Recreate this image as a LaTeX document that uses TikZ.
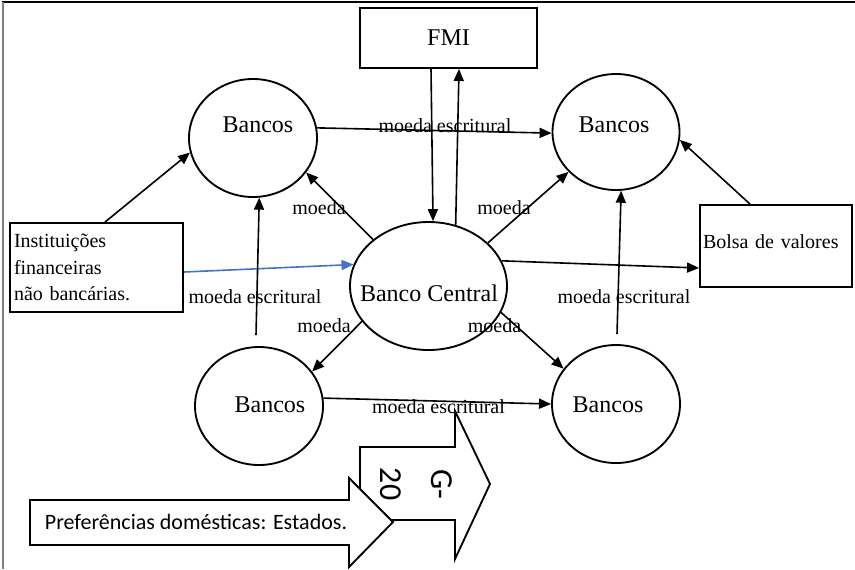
\documentclass[tikz,border=0pt]{standalone}
\usepackage{fontspec}
\setmainfont{Liberation Serif}
\newfontfamily\calib{Carlito}
\usetikzlibrary{shapes.geometric,arrows.meta,calc}
\begin{document}
\begin{tikzpicture}[x=0.75pt,y=-0.75pt,
  ell/.style={draw, ellipse, line width=1.4pt, inner sep=0pt, minimum width=96pt, minimum height=88.5pt},
  box/.style={draw, rectangle, line width=1.4pt},
  big/.style={font=\fontsize{18}{21}\selectfont, inner sep=0pt},
  lbl/.style={font=\fontsize{15}{18}\selectfont, inner sep=0pt},
  con/.style={line width=1.2pt, -{Triangle[length=9pt,width=7.5pt]}},
  blockarrow/.style={draw, fill=white, line width=1.4pt, line join=miter},
]
\useasboundingbox (0,0) rectangle (855,569);
% frame
\draw[line width=1.2pt] (2,2) -- (855,2);
\draw[gray, line width=1.2pt] (3,2) -- (3,569);

% ellipses
\node[ell] (tl) at (253,138) {};
\node[ell, minimum width=95.25pt, minimum height=87pt] (tr) at (616,132) {};
\node[ell, minimum width=117.75pt, minimum height=96pt] (bc) at (428.5,286) {};
\node[ell] (bl) at (259,406) {};
\node[ell] (br) at (616,404) {};
\node[big] (tlt) at (258,125) {Bancos};
\node[big] (trt) at (614,125) {Bancos};
\node[big] (blt) at (270,405) {Bancos};
\node[big] (brt) at (608,405) {Bancos};
\node[big] (bct) at (429,293) {Banco Central};

% boxes
\node[box, minimum width=132.75pt, minimum height=45pt, font=\fontsize{18}{21}\selectfont] (fmi) at (448.5,38) {FMI};
\node[box, text width=123.75pt, inner xsep=3pt, inner ysep=0pt, minimum height=66.75pt, align=left, font=\fontsize{15}{20}\selectfont] (inst) at (96.5,267.5) {Instituições\\financeiras\\não bancárias.};
\node[box, text width=109.5pt, inner xsep=2.25pt, inner ysep=0pt, minimum height=61.5pt, align=left, font=\fontsize{15}{18}\selectfont] (bolsa) at (776,246) {Bolsa de valores\rule[-6pt]{0pt}{6pt}};

% connectors
\draw[con] (tl.9) -- (tr.181);
\draw[con] ($(fmi.south)+(-17.5,0)$) -- (bc.86);
\draw[con] (bc.66) -- ($(fmi.south)+(10.5,0)$);
\draw[con] ($(inst.north)+(8.5,0)$) -- (tl.193);
\draw[con, color={rgb,255:red,68;green,114;blue,196}] ($(inst.east)+(0,4.5)$) -- (bc.164.8);
\draw[con] (bc.140.8) -- (tl.-33.2);
\draw[con] (bc.36.5) -- (tr.220.8);
\draw[con] (bc.19.3) -- ($(bolsa.west)+(0,22)$);
\draw[con] ($(bolsa.north)+(-26,0)$) -- (tr.-7);
\draw[con] ($(bl.north)+(-3,-11)$) -- (tl.-84);
\draw[con] ($(br.north)+(1,-10)$) -- (tr.-85);
\draw[con] (bc.208.5) -- (bl.33.7);
\draw[con] (bc.-20.8) -- (br.146.9);
\draw[con] (bl.7) -- (br.180);

% labels
\node[lbl] (l1) at (445,126) {moeda escritural};
\node[lbl] (l2) at (319,208) {moeda};
\node[lbl] (l3) at (504,208) {moeda};
\node[lbl] (l4) at (255,297) {moeda escritural};
\node[lbl] (l5) at (624,297) {moeda escritural};
\node[lbl] (l6) at (324,326) {moeda};
\node[lbl] (l7) at (494.5,326) {moeda};
\node[lbl] (l8) at (438.5,407) {moeda escritural};

% block arrows
\draw[blockarrow] (360,447) -- (455,447) -- (455,411) -- (490,484) -- (455,559) -- (455,520) -- (360,520) -- cycle;
\node[rotate=-90, font=\calib\fontsize{24}{38}\selectfont, align=center, inner sep=0pt] (g20) at (416,484) {G-\\20};
\draw[blockarrow] (30,500) -- (349,500) -- (349,478) -- (393,522) -- (349,567) -- (349,545) -- (30,545) -- cycle;
\node[font=\calib\fontsize{16.5}{20}\selectfont, inner sep=0pt] (pref) at (196,522) {Preferências domésticas: Estados.};
\end{tikzpicture}
\end{document}
